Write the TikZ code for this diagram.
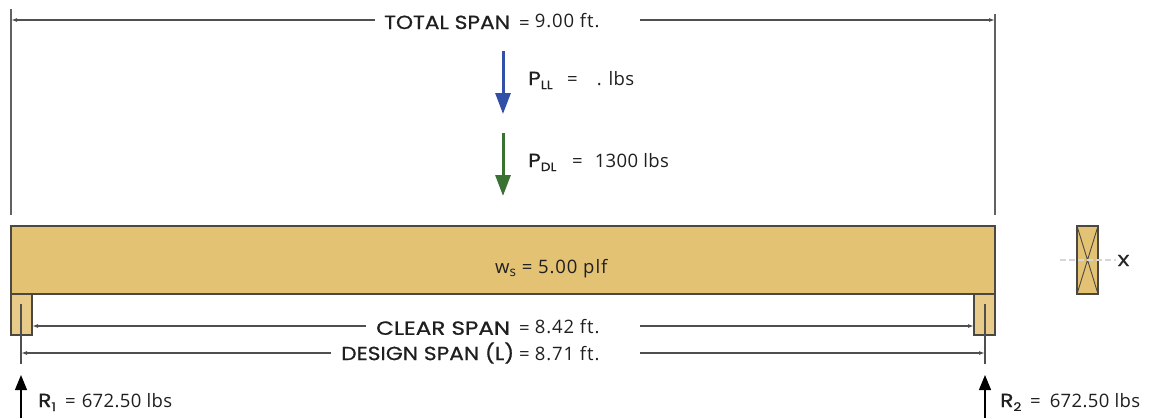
\documentclass[tikz,border=0pt]{standalone}
\usepackage{fontspec}
\usetikzlibrary{arrows.meta}
\setmainfont[LetterSpace=5]{Open Sans}
\newfontfamily\archfont[FakeStretch=1.145,FakeBold=0.8]{Poppins}
\newfontfamily\markfont[FakeStretch=1.3,FakeBold=1]{Poppins}
\definecolor{beamfill}{HTML}{E3C274}
\definecolor{postfill}{HTML}{E8CB88}
\definecolor{edgecol}{HTML}{4A4841}
\definecolor{dimcol}{HTML}{4F4F4F}
\definecolor{blueload}{HTML}{3350A8}
\definecolor{greenload}{HTML}{3A7233}
\newcommand{\arch}[1]{{\archfont\fontsize{19}{19}\selectfont #1}}
\newcommand{\archsub}[1]{{\archfont\fontsize{12}{12}\selectfont #1}}
\newcommand{\lead}[3]{\makebox[#1pt][l]{#2}=\hspace{#3pt}}
\newcommand{\tight}{\addfontfeature{LetterSpace=2}}
\tikzset{
  x=1pt,y=-1pt,
  txt/.style={inner sep=0pt,anchor=west,font=\fontsize{18.5}{20}\selectfont,text=black!88},
  dimline/.style={draw=dimcol,line width=1.2pt,-{Latex[length=6pt,width=4pt]}},
  plainline/.style={draw=dimcol,line width=1.2pt},
  witness/.style={draw=dimcol!90,line width=1.5pt},
  woodbeam/.style={draw=edgecol,line width=1.4pt,fill=beamfill,outer sep=0pt,inner sep=0pt,anchor=north west},
  woodpost/.style={draw=edgecol,line width=1.4pt,fill=postfill,outer sep=0pt,inner sep=0pt,anchor=north west},
  loadarrow/.style={line width=3pt,-{Triangle[length=21pt,width=15pt]}},
  reaction/.style={draw=black,line width=1.2pt,-{Triangle[length=15pt,width=12pt]}},
}
\begin{document}
\begin{tikzpicture}
\useasboundingbox (0,0) rectangle (1150,418);
% beam and bearings
\node[woodpost,minimum width=21pt,minimum height=41pt] (postL) at (11,294) {};
\node[woodpost,minimum width=21pt,minimum height=41pt] (postR) at (974,294) {};
\node[woodbeam,minimum width=984pt,minimum height=68pt] (beam) at (11,226) {};
\node[woodbeam,minimum width=21pt,minimum height=68pt] (sect) at (1077,226) {};
\draw[edgecol,line width=.9pt] (sect.north west)--(sect.south east) (sect.north east)--(sect.south west);
% coordinates
\coordinate (wTLt) at (11,9); \coordinate (wTLb) at (11,215);
\coordinate (wTRt) at (995,14); \coordinate (wTRb) at (995,215);
\coordinate (wLt) at (21,304); \coordinate (wLb) at (21,364);
\coordinate (wRt) at (985,304); \coordinate (wRb) at (985,364);
\coordinate (totL) at (11,20); \coordinate (totR) at (995,20); \coordinate (totM) at (640,20); \coordinate (totN) at (375,20);
\coordinate (clrL) at (32,326); \coordinate (clrR) at (974,326); \coordinate (clrM) at (640,326); \coordinate (clrN) at (366,326);
\coordinate (desL) at (21,353); \coordinate (desR) at (985,353); \coordinate (desM) at (640,353); \coordinate (desN) at (331,353);
\coordinate (llT) at (503,51); \coordinate (llB) at (503,114);
\coordinate (dlT) at (503,133); \coordinate (dlB) at (503,196);
\coordinate (r1B) at (21,418); \coordinate (r1T) at (21,375);
\coordinate (r2B) at (985,418); \coordinate (r2T) at (985,375);
\coordinate (axL) at (1060,260); \coordinate (axR) at (1116,260);
% labels
\node[txt] (tTotal) at (384,21) {\lead{135}{\arch{TOTAL SPAN}}{5}\raisebox{2pt}{9.00 ft.}};
\node[txt] (tClear) at (376,327) {\lead{143}{\scalebox{1.06}[1]{\arch{CLEAR SPAN}}}{5}\raisebox{1.5pt}{8.42 ft.}};
\node[txt] (tDesign) at (341,353) {\lead{178}{\arch{DESIGN SPAN (L)}}{5}8.71 ft.};
\node[txt] (tPLL) at (528,80) {\lead{39}{\arch{P}\raisebox{-4pt}{\archsub{LL}}}{19}{\tight . lbs}};
\node[txt] (tPDL) at (528,162) {\lead{44}{\arch{P}\raisebox{-4pt}{\archsub{DL}}}{12}{\tight 1300 lbs}};
\node[txt] (tWs) at (495,269) {w\raisebox{-2.5pt}{\fontsize{13.5}{13.5}\selectfont s} = 5.00 plf};
\node[txt] (tR1) at (38,402) {\lead{27}{\arch{R}\raisebox{-4pt}{\archsub{1}}}{6}{\tight 672.50 lbs}};
\node[txt] (tR2) at (1000,402) {\lead{30}{\arch{R}\raisebox{-4pt}{\archsub{2}}}{9}{\tight 672.50 lbs}};
\node[inner sep=0pt,font=\markfont\fontsize{16}{16}\selectfont,text=black!85] (tX) at (1123.5,260.5) {X};
% witness lines
\draw[witness] (wTLt)--(wTLb);
\draw[witness] (wTRt)--(wTRb);
\draw[plainline] (wLt)--(wLb);
\draw[plainline] (wRt)--(wRb);
% dimension lines
\draw[dimline] (totN)--(totL);
\draw[dimline] (totM)--(totR);
\draw[dimline] (clrN)--(clrL);
\draw[dimline] (clrM)--(clrR);
\draw[dimline] (desN)--(desL);
\draw[dimline] (desM)--(desR);
% loads
\draw[loadarrow,blueload] (llT)--(llB);
\draw[loadarrow,greenload] (dlT)--(dlB);
\draw[reaction] (r1B)--(r1T);
\draw[reaction] (r2B)--(r2T);
% section axis
\draw[black!16,line width=1.4pt,dash pattern=on 6pt off 3pt] (axL)--(axR);
\end{tikzpicture}
\end{document}
